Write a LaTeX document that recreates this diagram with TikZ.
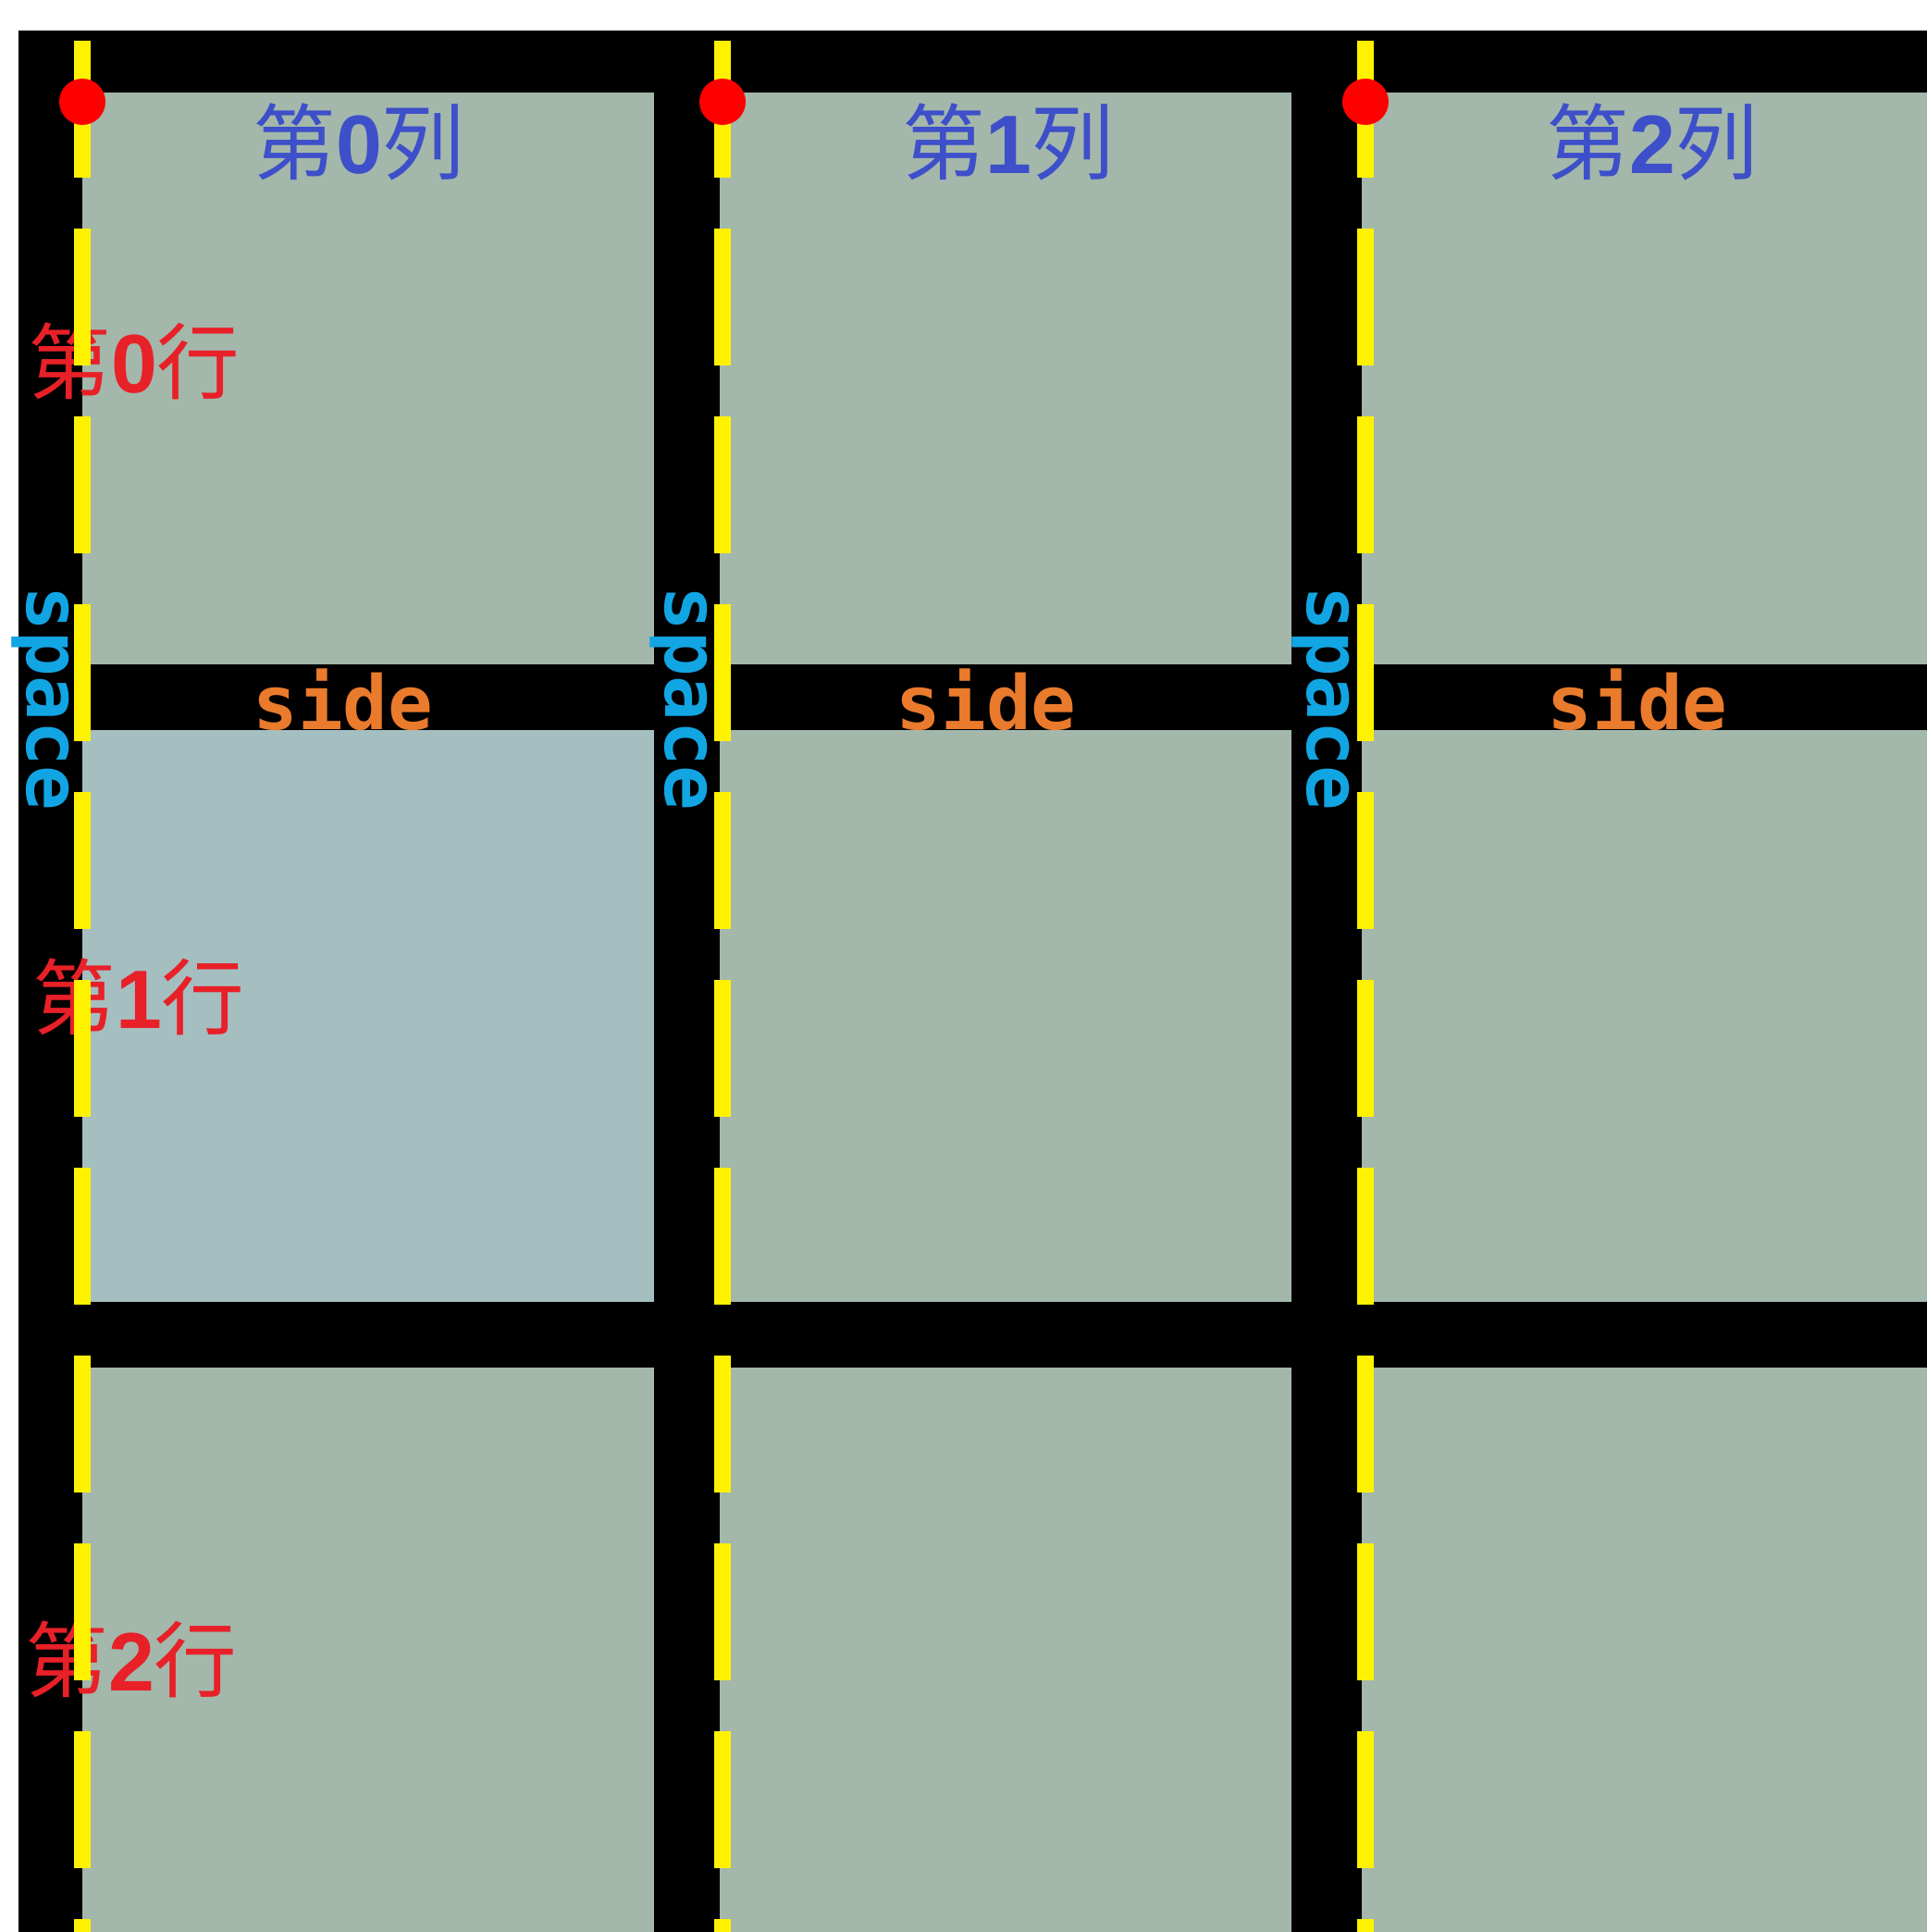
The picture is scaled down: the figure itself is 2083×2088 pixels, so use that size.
\documentclass[tikz,border=0pt]{standalone}
\usepackage{fontspec}
\setmonofont{DejaVu Sans Mono}
\newfontfamily\cjk{Noto Sans CJK SC}
\newfontfamily\numfont{Liberation Sans}

\definecolor{cellgrey}{HTML}{A3B7AB}
\definecolor{cellblue}{HTML}{A5BFC1}
\definecolor{colblue}{HTML}{3D4FC9}
\definecolor{rowred}{HTML}{E82028}
\definecolor{spacecyan}{HTML}{12A5E3}
\definecolor{sideorange}{HTML}{EA7B2C}
\definecolor{laneyellow}{HTML}{FFF200}

\newcommand{\ordinal}[2]{{\cjk 第}{\numfont\bfseries #1}{\cjk #2}}

\begin{document}
\begin{tikzpicture}[
    x=0.1mm, y=-0.1mm,
    cell/.style={fill=cellgrey},
    collabel/.style={text=colblue, font=\fontsize{25.5pt}{30pt}\selectfont, inner sep=0pt},
    rowlabel/.style={text=rowred, font=\fontsize{25.5pt}{30pt}\selectfont, inner sep=0pt},
    spacelabel/.style={text=spacecyan, font=\ttfamily\bfseries\fontsize{23pt}{27pt}\selectfont, rotate=-90, anchor=base, inner sep=0pt},
    sidelabel/.style={text=sideorange, font=\ttfamily\bfseries\fontsize{23pt}{27pt}\selectfont, anchor=base, inner sep=0pt},
    laneline/.style={draw=laneyellow, line width=1.8mm, dash pattern=on 14.8mm off 5.5mm},
    corner/.style={circle, fill=red, minimum size=5mm, inner sep=0pt}
]

\useasboundingbox (0,0) rectangle (2083,2088);
\clip (0,0) rectangle (2083,2088);
\fill[white] (0,0) rectangle (2083,2088);
\fill[black] (20,33) rectangle (2083,2088);

% cells
\foreach \cx in {89,778,1472}
  \foreach \cy in {100,789,1478}
    \fill[cell] (\cx,\cy) rectangle ++(618,618);
\fill[cellblue] (89,789) rectangle ++(618,618);

\node[collabel] (col0) at (388,153) {\ordinal{0}{列}};
\node[collabel] (col1) at (1090,153) {\ordinal{1}{列}};
\node[collabel] (col2) at (1786,153) {\ordinal{2}{列}};

\node[rowlabel] (row0) at (145,390) {\ordinal{0}{行}};
\node[rowlabel] (row1) at (150,1077) {\ordinal{1}{行}};
\node[rowlabel] (row2) at (142,1793) {\ordinal{2}{行}};

\node[spacelabel] (space0) at (30,755) {space};
\node[spacelabel] (space1) at (719,755) {space};
\node[spacelabel] (space2) at (1413,755) {space};

\node[sidelabel] (side0) at (371,788) {side};
\node[sidelabel] (side1) at (1066,788) {side};
\node[sidelabel] (side2) at (1770,788) {side};

% yellow lines and corner dots
\foreach \lx in {89,781,1476}
  \draw[laneline] (\lx,44) -- (\lx,2088);
\foreach \lx [count=\i from 0] in {89,781,1476}
  \node[corner] (dot\i) at (\lx,110) {};

\end{tikzpicture}
\end{document}
